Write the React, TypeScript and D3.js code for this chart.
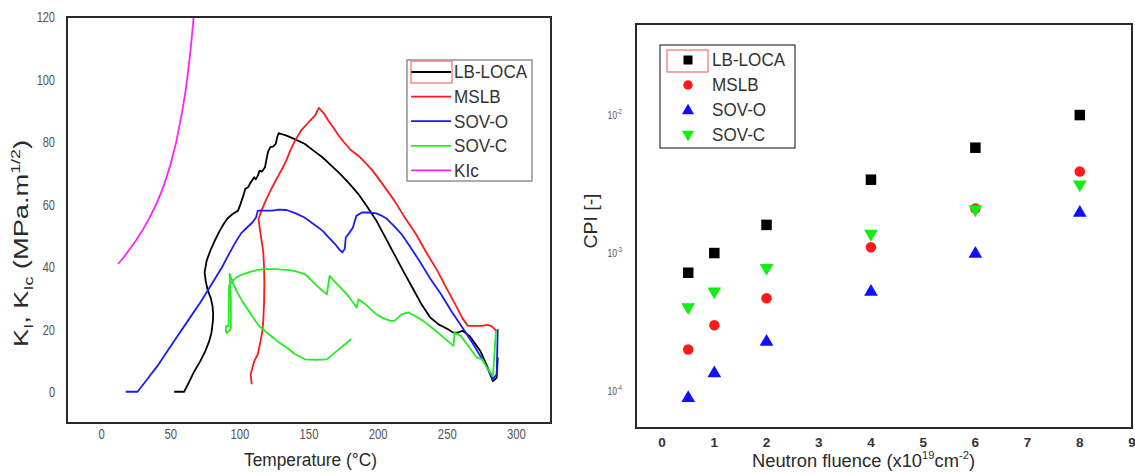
import React from "react";
import * as d3 from "d3";

// ---------- Left chart data (Temperature °C, K MPa·m^1/2) ----------
const lbLoca: [number, number][] = [[52.5,0],[59.7,0],[63.6,3.4],[67,6.5],[71.4,9.8],[75,13],[77.9,16.3],[79.5,19],[80.5,22.7],[80.7,25],[80.2,27.5],[79,30],[77.9,31.2],[76.5,33],[75.3,35.5],[74.5,38.2],[76,42],[78.5,45],[81.8,48.3],[85,51.2],[88.3,53.7],[91,55.5],[94.8,56.9],[98.7,58],[100,59.5],[101.3,61.2],[103,63.5],[103.9,65],[106,65.5],[107.8,67],[110.4,68.7],[111.5,68],[113,69.2],[114.3,70.8],[116,70.5],[118.2,71.9],[119.5,75],[120.5,77],[122,78.3],[124,78.5],[126,79.4],[127,81.5],[128,82.8],[133.8,82],[140,80.8],[146.8,79.4],[153,77.3],[159.7,75.1],[166,72.5],[172.7,69.7],[179,66.7],[185.7,63.3],[192,59.3],[198.7,54.8],[205,49.6],[211.7,44],[218,38.8],[224.7,33.4],[231,28.3],[237.7,23.8],[244,21.5],[250.6,20],[254,19],[257,18.9],[261,19.5],[263,18.9],[266,17.9],[270,15.5],[274,13],[279,8],[283,3.4],[285.7,4.5],[286.5,11]];
const mslb: [number, number][] = [[108.6,2.4],[107.8,5.6],[110.4,9.8],[113,12],[115,16.3],[116.3,19.5],[116.9,22.7],[117.5,28],[117.7,34.5],[117.5,40],[116.9,45],[115.5,49],[114.3,52.6],[113.5,55.3],[115.6,58],[119,61.5],[123.4,65.5],[127,68.5],[131.2,71.9],[134,74.5],[136.4,77.2],[140,80.5],[144.2,83.6],[148,85.5],[152,87.4],[154.5,88.5],[157.1,90.9],[161,89],[164,86.8],[167.5,84.7],[171,82.3],[175.3,79.9],[180,77.5],[185.7,75.6],[191,73.2],[196,70.8],[204,66],[211.7,61.2],[219,56],[227.3,50.5],[235,44.5],[242.9,38.7],[249,33.5],[255.8,28],[261,23.5],[264.9,21.1],[270,21.1],[275.3,21.1],[279,21.4],[282,21],[284.4,20],[285.5,19.5]];
const sovO: [number, number][] = [[17.4,0],[26,0],[33,4],[40.3,8.2],[48,13.3],[55.8,18.4],[63.6,23.5],[71.4,28.6],[79,34],[87,39.8],[92,44],[97.4,48.3],[101,50.8],[105.2,52.6],[109,54.2],[111.7,55.8],[113,58],[118,58],[123.4,58],[128,58.3],[133.8,58.2],[140,57.2],[146.8,55.8],[153,53.8],[159.7,51.6],[164,49.5],[168.8,47.3],[172,45.5],[174,44.6],[175.8,45.7],[176.6,49.4],[179,50.8],[181.8,52.6],[183,54.5],[184.4,56.4],[188.3,57.4],[193,57.4],[198.7,57.1],[202,56.5],[206.5,55.3],[211,53.3],[216.9,50.5],[223,46.5],[229.9,41.9],[237,36.7],[245.5,31.2],[253,25.8],[261,20.5],[268,15.8],[274,11.4],[279,7.5],[283,4],[285.7,5.6],[286.5,20]];
const sovC: [number, number][] = [[180.5,16.8],[175,14.8],[170,13],[163,10.4],[155,10.2],[147,10.4],[140,12],[134,14.1],[127,16.2],[121,18.4],[114,21],[108,24.8],[102,28.8],[97.5,32.3],[94.5,35.5],[92.5,37.8],[93.5,30],[93.5,20.5],[92.5,19.5],[90.5,18.8],[89.8,19.5],[90,21],[91.8,21],[92.2,34],[94.8,35.5],[98,36.8],[102.6,37.7],[108,38.5],[113,39],[118,39.3],[125,39.3],[133.8,39],[140,38.6],[146.8,37.7],[150,36.5],[154.5,34.5],[158,33],[162.9,31.2],[164.9,37.1],[168,35.5],[172.7,33.4],[179.2,30.2],[184.4,27],[185.7,29.6],[190.9,28],[198.7,24.8],[204,23.5],[209,22.7],[211.7,22.7],[216.9,24.8],[222,25.4],[227,24.2],[232.5,22.7],[240.3,20],[247,17.5],[254.5,14.7],[255.3,18.9],[259.7,17.9],[266.2,14.1],[271.4,10.9],[275.3,10.4],[279,7.5],[283,5],[285.2,19.5]];
const kIc: [number, number][] = [[12,41],[16,43],[20,45.5],[25,48.5],[30,52],[35,56],[40,60.5],[45,66],[50,73],[54,80],[58,89],[61,97],[64,108],[66,117],[67.5,125]];

const leftXTicks = [0, 50, 100, 150, 200, 250, 300];
const leftYTicks = [0, 20, 40, 60, 80, 100, 120];
const leftSeriesLabels = ["LB-LOCA", "MSLB", "SOV-O", "SOV-C", "KIc"];

// ---------- Right chart data (fluence x1e19, CPI) ----------
const fluence = [0.5, 1, 2, 4, 6, 8];
const cpiLbLoca = [7.2e-4, 1.0e-3, 1.6e-3, 3.4e-3, 5.8e-3, 1.0e-2];
const cpiMslb = [2.0e-4, 3.0e-4, 4.7e-4, 1.1e-3, 2.1e-3, 3.9e-3];
const cpiSovO = [9.0e-5, 1.36e-4, 2.3e-4, 5.3e-4, 1.0e-3, 1.98e-3];
const cpiSovC = [4.0e-4, 5.2e-4, 7.7e-4, 1.36e-3, 2.05e-3, 3.1e-3];
const rightXTicks = [0, 1, 2, 3, 4, 5, 6, 7, 8, 9];
const rightYTickExps = [-2, -3, -4];
const rightSeriesLabels = ["LB-LOCA", "MSLB", "SOV-O", "SOV-C"];

const FONT = "'Liberation Sans', Arial, Helvetica, sans-serif";

export default function App() {
  // Left chart geometry
  const L = { left: 67, right: 551, top: 17, bottom: 423 };
  const xL = d3.scaleLinear().domain([-25, 325]).range([L.left, L.right]);
  const yL = d3.scaleLinear().domain([-10, 120]).range([L.bottom, L.top]);
  const lineL = d3.line<[number, number]>().x(d => xL(d[0])).y(d => yL(d[1]));
  const leftData = [lbLoca, mslb, sovO, sovC, kIc];
  const leftColors = ["#000000", "#ff1a1a", "#1a1aff", "#22ee22", "#ff22ff"];

  // Right chart geometry
  const R = { left: 636, right: 1132, top: 24, bottom: 428 };
  const xR = d3.scaleLinear().domain([-0.5, 9]).range([R.left, R.right]);
  const yR = d3.scaleLog().domain([Math.pow(10, -4.268), Math.pow(10, -1.34)]).range([R.bottom, R.top]);
  const rightColors = ["#000000", "#ff1a1a", "#1010ff", "#11ee11"];
  const rightData = [cpiLbLoca, cpiMslb, cpiSovO, cpiSovC];

  const marker = (i: number, cx: number, cy: number, s: number, key: string) => {
    const c = rightColors[i];
    if (i === 0) return <rect key={key} x={cx - s / 2} y={cy - s / 2} width={s} height={s} fill={c} />;
    if (i === 1) return <circle key={key} cx={cx} cy={cy} r={s / 2} fill={c} />;
    const h = s * 0.95;
    const w = s * 1.1;
    if (i === 2)
      return <path key={key} d={`M${cx},${cy - h * 0.6}L${cx + w / 2},${cy + h * 0.4}L${cx - w / 2},${cy + h * 0.4}Z`} fill={c} />;
    return <path key={key} d={`M${cx},${cy + h * 0.6}L${cx + w / 2},${cy - h * 0.4}L${cx - w / 2},${cy - h * 0.4}Z`} fill={c} />;
  };

  return (
    <svg width={1135} height={474} style={{ position: "absolute", left: 0, top: 0, background: "#fff" }} fontFamily={FONT}>
      <defs>
        <clipPath id="clipL">
          <rect x={L.left} y={L.top} width={L.right - L.left} height={L.bottom - L.top} />
        </clipPath>
      </defs>

      {/* ===== Left chart ===== */}
      <g clipPath="url(#clipL)">
        {leftData.map((d, i) => (
          <path key={leftSeriesLabels[i]} d={lineL(d) || ""} fill="none" stroke={leftColors[i]} strokeWidth={1.8} strokeLinejoin="round" />
        ))}
      </g>
      <rect x={L.left} y={L.top} width={L.right - L.left} height={L.bottom - L.top} fill="none" stroke="#2a2a2a" strokeWidth={2} />
      {leftYTicks.map(t => (
        <text key={"ly" + t} transform={`translate(55,${yL(t)}) scale(0.76,1)`} dy="0.36em" textAnchor="end" fontSize={14.5} fill="#555">{t}</text>
      ))}
      {leftXTicks.map(t => (
        <text key={"lx" + t} transform={`translate(${xL(t)},439) scale(0.78,1)`} textAnchor="middle" fontSize={14.5} fill="#555">{t}</text>
      ))}
      <text x={244} y={466} fontSize={18} fill="#2a2a2a" textLength={133} lengthAdjust="spacingAndGlyphs">
        Temperature (°C)
      </text>
      <text transform="translate(28,243.5) rotate(-90)" x={-103.5} fontSize={20} fill="#2a2a2a" textLength={207} lengthAdjust="spacingAndGlyphs">
        K<tspan dy={5} fontSize={13}>I</tspan><tspan dy={-5}>, K</tspan><tspan dy={5} fontSize={13}>Ic</tspan><tspan dy={-5}> (MPa.m</tspan><tspan dy={-8} fontSize={13}>1/2</tspan><tspan dy={8}>)</tspan>
      </text>

      {/* Left legend */}
      <rect x={407} y={60} width={125} height={121} fill="#fff" stroke="#777" strokeWidth={1.2} />
      {leftSeriesLabels.map((name, i) => {
        const y = 72 + i * 24.6;
        return (
          <g key={"ll" + name}>
            <line x1={411} x2={451} y1={y} y2={y} stroke={leftColors[i]} strokeWidth={1.8} />
            <text transform={`translate(454,${y}) scale(0.95,1)`} dy="0.36em" fontSize={18} fill="#333">{name}</text>
          </g>
        );
      })}
      <rect x={411} y={61} width={41} height={22} fill="none" stroke="#f07070" strokeWidth={1.2} />

      {/* ===== Right chart ===== */}
      <rect x={R.left} y={R.top} width={R.right - R.left} height={R.bottom - R.top} fill="none" stroke="#2a2a2a" strokeWidth={2} />
      {rightData.map((vals, i) => (
        <g key={"rs" + i}>{vals.map((v, j) => marker(i, xR(fluence[j]), yR(v), i === 0 ? 10.5 : i === 1 ? 10.5 : 12.5, `m${i}-${j}`))}</g>
      ))}
      {rightYTickExps.map(e => (
        <text key={"ry" + e} transform={`translate(622,${yR(Math.pow(10, e))}) scale(0.75,1)`} dy="0.36em" textAnchor="end" fontSize={11.5} fill="#555">
          10<tspan dy={-5} fontSize={7.5}>{e}</tspan>
        </text>
      ))}
      {rightXTicks.map(t => (
        <text key={"rx" + t} x={xR(t)} y={446.5} textAnchor="middle" fontSize={13.5} fontWeight="bold" fill="#333">{t}</text>
      ))}
      <text x={752} y={467} fontSize={18} fill="#2a2a2a" textLength={223} lengthAdjust="spacingAndGlyphs">
        Neutron fluence (x10<tspan dy={-8} fontSize={11}>19</tspan><tspan dy={8}>cm</tspan><tspan dy={-8} fontSize={11}>-2</tspan><tspan dy={8}>)</tspan>
      </text>
      <text transform="translate(597,221) rotate(-90)" x={-27.5} fontSize={18} fill="#2a2a2a" textLength={55} lengthAdjust="spacingAndGlyphs">CPI [-]</text>

      {/* Right legend */}
      <rect x={660} y={45} width={135} height={103} fill="#fff" stroke="#333" strokeWidth={1.2} />
      {rightSeriesLabels.map((name, i) => {
        const y = 60 + i * 25;
        return (
          <g key={"rl" + name}>
            {marker(i, 688, y, i === 0 ? 9 : i === 1 ? 9.5 : 11, "lm" + i)}
            <text transform={`translate(712,${y}) scale(0.95,1)`} dy="0.36em" fontSize={18} fill="#333">{name}</text>
          </g>
        );
      })}
      <rect x={667} y={50} width={41} height={22} fill="none" stroke="#f07070" strokeWidth={1.2} />
    </svg>
  );
}
